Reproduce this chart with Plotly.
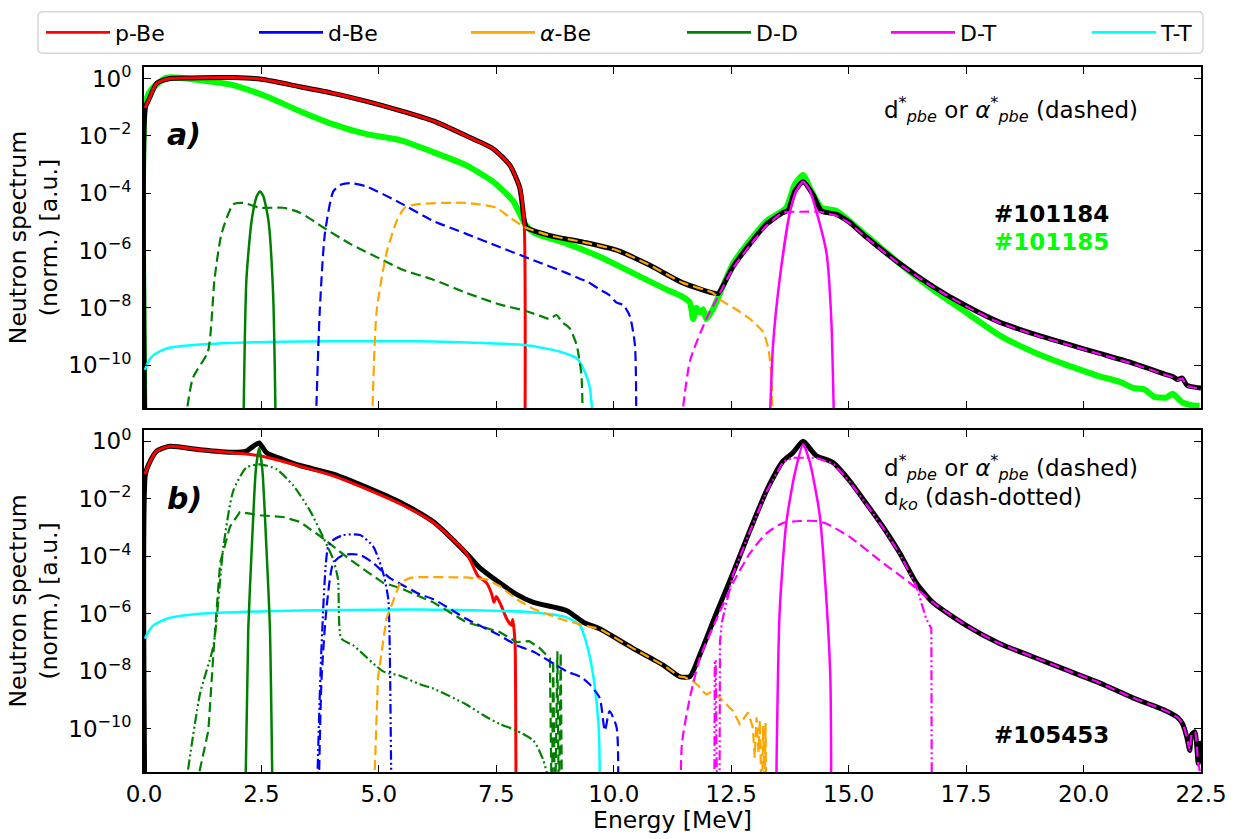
import plotly.graph_objects as go

# ---------------------------------------------------------------------------
# Neutron spectra (energy in MeV, intensity given as log10 of normalised value)
# Values of -13 lie below the lower axis limit (curve leaves the frame).
# ---------------------------------------------------------------------------

# ---- panel a) : #101184 (black) and #101185 (lime) ----
tot_a_E = [0.02, 0.03, 0.1, 0.27, 0.55, 1.0, 1.9, 2.5, 3.32, 4.0, 4.74, 5.45, 6.16, 6.86, 7.43, 7.79, 8.0, 8.09,
           8.14, 8.64, 9.35, 10.06, 10.76, 11.47, 12.11, 12.22, 12.54, 12.9, 13.25, 13.6, 13.71, 13.85, 14.03,
           14.24, 14.42, 14.74, 15.02, 15.38, 16.08, 16.79, 17.5, 18.21, 18.92, 19.63, 20.34, 21.05, 21.76, 21.9,
           22.0, 22.1, 22.2, 22.3, 22.5]
tot_a_L = [-13, -1.0, -0.75, -0.17, 0.0, 0.02, 0.03, -0.03, -0.29, -0.51, -0.8, -1.12, -1.48, -2.0, -2.45, -3.03,
           -3.82, -4.9, -5.19, -5.48, -5.71, -5.99, -6.51, -7.13, -7.48, -7.5, -6.56, -5.77, -5.08, -4.68, -4.6,
           -3.94, -3.6, -4.05, -4.62, -4.74, -5.02, -5.54, -6.45, -7.25, -7.93, -8.5, -8.9, -9.25, -9.59, -9.93,
           -10.33, -10.4, -10.5, -10.45, -10.7, -10.75, -10.8]

shot2_a_E = [0.02, 0.03, 0.15, 0.48, 1.19, 1.9, 2.61, 3.32, 4.03, 4.74, 5.45, 6.16, 6.86, 7.43, 7.86, 8.11, 8.29,
             9.0, 9.7, 10.41, 11.12, 11.45, 11.62, 11.69, 11.76, 11.83, 11.9, 11.97, 12.11, 12.54, 12.9, 13.25,
             13.67, 13.85, 14.03, 14.2, 14.42, 14.74, 15.38, 16.08, 16.79, 17.5, 18.21, 18.92, 19.63, 20.0, 20.34,
             20.6, 20.8, 21.05, 21.3, 21.5, 21.76, 21.9, 22.1, 22.3, 22.47]
shot2_a_L = [-13, -0.86, -0.4, 0.03, -0.06, -0.23, -0.63, -1.14, -1.6, -1.94, -2.15, -2.57, -3.03, -3.6, -4.28,
             -5.08, -5.37, -5.76, -6.22, -6.79, -7.36, -7.6, -7.82, -8.39, -8.0, -8.16, -8.05, -8.39, -8.05, -6.45,
             -5.65, -4.97, -4.51, -3.71, -3.37, -3.9, -4.51, -4.62, -5.48, -6.45, -7.36, -8.16, -8.96, -9.53,
             -9.99, -10.2, -10.39, -10.5, -10.6, -10.79, -10.85, -11.1, -11.13, -11.0, -11.3, -11.4, -11.42]

pbe_a_E = [0.02, 0.1, 0.27, 0.55, 1.0, 1.9, 2.5, 3.32, 4.0, 4.74, 5.45, 6.16, 6.86, 7.43, 7.79, 8.0, 8.09, 8.11]
pbe_a_L = [-1.03, -0.75, -0.17, 0.0, 0.02, 0.03, -0.03, -0.29, -0.51, -0.8, -1.12, -1.48, -2.0, -2.45, -3.03,
           -3.82, -4.97, -13]

dbe_a_E = [3.64, 3.74, 3.85, 4.03, 4.2, 4.39, 4.74, 5.45, 6.16, 6.86, 7.57, 8.29, 9.0, 9.3, 9.45, 9.7, 9.9,
           10.06, 10.2, 10.34, 10.45, 10.48]
dbe_a_L = [-13, -8.16, -5.42, -3.94, -3.7, -3.65, -3.77, -4.34, -4.97, -5.42, -5.88, -6.34, -6.79, -7.0, -7.1,
           -7.36, -7.55, -7.82, -7.9, -8.28, -9.3, -13]

abe_a_E = [4.84, 4.95, 5.16, 5.38, 5.55, 5.8, 6.86, 7.5, 7.79, 8.11, 8.64, 9.35, 10.06, 10.76, 11.47, 12.11,
           12.26, 12.54, 12.9, 13.18, 13.29, 13.36, 13.38]
abe_a_L = [-13, -8.16, -6.1, -4.97, -4.51, -4.39, -4.34, -4.51, -4.85, -5.19, -5.48, -5.71, -5.99, -6.51, -7.13,
           -7.48, -7.71, -7.99, -8.39, -8.85, -9.42, -10.45, -13]

dd_pbe_a_E = [0.8, 1.04, 1.36, 1.5, 1.65, 1.9, 2.11, 2.47, 2.96, 3.32, 3.81, 4.39, 5.09, 5.52, 6.16, 6.86, 7.57,
              8.11, 8.43, 8.64, 8.78, 8.9, 9.0, 9.07, 9.21, 9.31, 9.35]
dd_pbe_a_L = [-13, -10.45, -9.53, -7.02, -5.42, -4.39, -4.34, -4.51, -4.51, -4.68, -5.19, -5.77, -6.34, -6.68,
              -7.02, -7.48, -7.88, -8.1, -8.28, -8.39, -8.25, -8.5, -8.62, -8.73, -9.3, -10.33, -13]

dd_th_a_E = [2.11, 2.18, 2.29, 2.4, 2.47, 2.54, 2.65, 2.75, 2.81]
dd_th_a_L = [-13, -7.02, -4.97, -4.11, -3.94, -4.11, -4.97, -7.59, -13]

tt_a_E = [0.02, 0.1, 0.2, 0.48, 1.19, 2.61, 4.03, 5.87, 6.86, 8.11, 8.86, 9.21, 9.38, 9.49, 9.6]
tt_a_L = [-10.16, -9.85, -9.65, -9.42, -9.28, -9.19, -9.17, -9.17, -9.21, -9.3, -9.53, -9.76, -10.22, -10.79, -13]

dt_th_a_E = [13.3, 13.39, 13.53, 13.74, 13.88, 14.03, 14.17, 14.31, 14.53, 14.63, 14.7]
dt_th_a_L = [-13, -9.3, -7.02, -4.74, -3.94, -3.6, -3.9, -4.62, -6.11, -8.39, -13]

dt_pbe_a_E = [11.37, 11.62, 11.97, 12.26, 12.54, 12.9, 13.25, 13.6, 13.96, 14.38, 14.74, 15.02, 15.38, 16.08,
              16.79, 17.5, 18.21, 18.92, 19.63, 20.34, 21.05, 21.76, 21.9, 22.0, 22.1, 22.2, 22.3, 22.5]
dt_pbe_a_L = [-13, -9.87, -8.39, -7.48, -6.62, -5.82, -5.14, -4.68, -4.65, -4.65, -4.79, -5.05, -5.56, -6.47,
              -7.27, -7.95, -8.52, -8.92, -9.27, -9.61, -9.95, -10.35, -10.42, -10.52, -10.47, -10.72, -10.77, -10.82]

# ---- panel b) : #105453 ----
tot_b_E = [0.02, 0.03, 0.1, 0.27, 0.55, 1.19, 1.9, 2.18, 2.3, 2.45, 2.52, 2.61, 2.96, 3.32, 4.03, 4.74, 5.45,
           6.16, 6.86, 7.15, 7.57, 7.93, 8.29, 9.0, 9.35, 9.7, 10.41, 11.05, 11.4, 11.62, 11.83, 12.19, 12.54,
           12.9, 13.25, 13.6, 13.81, 14.03, 14.2, 14.31, 14.67, 15.02, 15.38, 15.73, 16.09, 16.44, 16.79, 17.5,
           18.21, 18.92, 19.63, 20.34, 21.05, 21.5, 21.76, 22.0, 22.11, 22.2, 22.26, 22.3, 22.37, 22.44, 22.48, 22.5]
tot_b_L = [-13, -1.14, -0.8, -0.34, -0.17, -0.29, -0.38, -0.34, -0.2, -0.06, -0.2, -0.4, -0.63, -0.84, -1.14,
           -1.6, -2.12, -2.8, -3.89, -4.4, -4.92, -5.32, -5.6, -5.89, -6.29, -6.52, -7.2, -7.78, -8.18, -8.18,
           -7.43, -5.95, -4.57, -3.09, -1.72, -0.69, -0.4, 0.0, -0.3, -0.5, -0.74, -1.37, -2.17, -2.97, -3.89,
           -4.92, -5.6, -6.4, -7.03, -7.49, -7.95, -8.4, -8.92, -9.2, -9.38, -9.6, -9.83, -10.3, -10.75, -10.2,
           -10.1, -11.2, -10.5, -11.0]

pbe_b_E = [0.02, 0.1, 0.27, 0.55, 1.19, 1.9, 2.49, 3.32, 4.03, 4.74, 5.45, 6.16, 6.86, 7.11, 7.2, 7.29, 7.4,
           7.45, 7.5, 7.6, 7.72, 7.82, 7.85, 7.88, 7.9, 7.92]
pbe_b_L = [-1.14, -0.8, -0.34, -0.17, -0.29, -0.4, -0.51, -0.86, -1.2, -1.66, -2.17, -2.82, -3.89, -4.69, -4.8,
           -4.92, -5.3, -5.6, -5.4, -5.7, -6.17, -6.4, -6.2, -6.6, -7.09, -13]

abe_b_E = [4.88, 4.98, 5.16, 5.45, 5.66, 5.87, 6.86, 7.29, 7.57, 7.93, 8.29, 8.85, 9.35, 9.7, 10.41, 11.05, 11.4,
           11.5, 11.69, 11.8, 11.9, 11.97, 12.1, 12.26, 12.54, 12.68, 12.86, 12.96, 13.0, 13.04, 13.08, 13.11,
           13.15, 13.18, 13.21, 13.23, 13.25]
abe_b_L = [-13, -8.23, -6.17, -4.92, -4.75, -4.72, -4.73, -4.8, -5.03, -5.49, -5.83, -6.17, -6.4, -6.52, -7.2,
           -7.78, -8.18, -8.2, -8.35, -8.5, -8.7, -8.8, -8.7, -8.92, -9.38, -9.83, -9.43, -9.95, -11.0, -9.6,
           -10.8, -9.7, -13, -9.9, -13, -9.8, -13]

dbe_pbe_b_E = [3.71, 3.78, 3.89, 4.03, 4.24, 4.6, 4.88, 5.23, 5.45, 5.87, 6.16, 6.86, 7.57, 7.93, 8.29, 9.0, 9.3,
               9.49, 9.7, 9.81, 9.91, 10.06, 10.09]
dbe_pbe_b_L = [-13, -8.23, -5.72, -4.23, -3.95, -3.95, -4.23, -4.75, -4.95, -5.32, -5.49, -6.17, -6.75, -7.09,
               -7.32, -8.0, -8.2, -8.46, -8.92, -10.06, -9.38, -9.95, -13]

dbe_ko_b_E = [3.67, 3.78, 3.92, 4.03, 4.24, 4.6, 4.88, 5.09, 5.2, 5.23, 5.27]
dbe_ko_b_L = [-13, -7.09, -3.66, -3.43, -3.26, -3.26, -3.66, -4.57, -5.49, -7.09, -13]

dd_pbe_b_E = [0.98, 1.37, 1.48, 1.62, 1.83, 2.04, 2.47, 2.96, 3.32, 3.81, 4.39, 5.09, 5.45, 6.16, 6.86, 7.57,
              7.93, 8.2, 8.43, 8.64, 8.68, 8.71, 8.75, 8.8, 8.83, 8.87, 8.9]
dd_pbe_b_L = [-13, -10.06, -7.32, -4.23, -2.97, -2.46, -2.57, -2.63, -2.8, -3.37, -4.12, -4.92, -5.1, -5.6,
              -6.29, -6.63, -6.98, -6.95, -7.2, -7.55, -13, -7.6, -13, -7.3, -13, -7.35, -13]

dd_ko_b_E = [0.8, 1.19, 1.48, 1.69, 1.9, 2.18, 2.47, 2.82, 3.18, 3.53, 3.81, 4.03, 4.13, 4.2, 4.45, 5.09, 5.45,
             5.87, 6.16, 6.86, 7.2, 7.57, 7.93, 8.29, 8.5, 8.78]
dd_ko_b_L = [-13, -8.8, -7.09, -3.66, -1.72, -0.91, -0.8, -0.97, -1.54, -2.4, -3.32, -4.12, -4.8, -6.86, -7.09,
             -8.0, -8.15, -8.45, -8.6, -9.15, -9.5, -9.83, -10.06, -10.41, -11.09, -13]

dd_th_b_E = [2.15, 2.22, 2.3, 2.38, 2.45, 2.52, 2.6, 2.68, 2.74]
dd_th_b_L = [-13, -6.5, -3.5, -1.0, -0.23, -1.0, -3.5, -6.5, -13]

tt_b_E = [0.02, 0.1, 0.2, 0.48, 1.19, 2.61, 4.03, 5.87, 8.29, 9.0, 9.28, 9.43, 9.57, 9.68, 9.71]
tt_b_L = [-6.86, -6.6, -6.4, -6.17, -6.0, -5.91, -5.87, -5.85, -5.95, -6.12, -6.4, -7.09, -8.23, -9.95, -13]

dt_th_b_E = [13.45, 13.53, 13.67, 13.85, 14.03, 14.17, 14.38, 14.52, 14.61, 14.63]
dt_th_b_L = [-13, -5.95, -2.86, -1.14, -0.11, -0.7, -2.52, -5.37, -8.23, -13]

dt_pbe_b_E = [11.42, 11.45, 11.62, 11.83, 12.19, 12.54, 12.9, 13.25, 13.6, 13.96, 14.31, 14.52, 15.02, 15.73,
              16.3, 16.79, 17.5, 18.21, 18.92, 19.63, 20.34, 21.05, 21.5, 21.76, 22.0, 22.11, 22.2, 22.26, 22.3,
              22.37, 22.44, 22.48]
dt_pbe_b_L = [-13, -10.52, -8.92, -7.55, -6.17, -4.92, -3.89, -3.2, -2.84, -2.77, -2.77, -2.86, -3.32, -4.23,
              -4.92, -5.6, -6.4, -7.03, -7.49, -7.95, -8.4, -8.92, -9.2, -9.38, -9.6, -9.83, -10.3, -10.75, -10.2,
              -10.1, -11.2, -11.5]

dt_ko_b_E = [12.14, 12.15, 12.17, 12.2, 12.25, 12.26, 12.3, 12.54, 12.9, 13.25, 13.6, 13.81, 14.03, 14.3, 14.67,
             15.02, 15.38, 15.73, 16.09, 16.44, 16.65, 16.76, 16.77]
dt_ko_b_L = [-13, -7.66, -7.6, -13, -13, -7.0, -6.3, -4.62, -3.12, -1.75, -0.72, -0.57, -0.57, -0.57, -0.77,
             -1.4, -2.2, -3.0, -3.92, -5.03, -6.17, -6.52, -13]

# tick labels
x_ticks = [0.0, 2.5, 5.0, 7.5, 10.0, 12.5, 15.0, 17.5, 20.0, 22.5]
x_tick_text = ["0.0", "2.5", "5.0", "7.5", "10.0", "12.5", "15.0", "17.5", "20.0", "22.5"]
y_exponents = [0, -2, -4, -6, -8, -10]

# legend entries and the pixel column where each entry's line starts
legend_names = ["p-Be", "d-Be", "<i>α</i>-Be", "D-D", "D-T", "T-T"]
legend_colors = ["#ff0000", "#0000ff", "#ffa500", "#008000", "#ff00ff", "#00ffff"]
legend_px = [46, 259, 471, 687, 891, 1092]

# ---------------------------------------------------------------------------
FONT = "DejaVu Sans"
RED, BLUE, ORANGE, GREEN, MAGENTA, CYAN, LIME = ("#ff0000", "#0000ff", "#ffa500", "#008000",
                                                 "#ff00ff", "#00ffff", "#00ff00")
DASH = "10px,5px"
DASHDOT = "10px,3px,2px,3px,2px,3px"

# figure geometry (pixels)
W, H = 1241, 839
ML, MR, MT, MB = 144, 40, 57, 67
PW, PH = W - ML - MR, H - MT - MB


def px_to_paper_x(px):
    return (px - ML) / PW


def px_to_paper_y(py):
    return 1 + (MT - py) / PH


def dec(vals):
    return [10.0 ** v for v in vals]


fig = go.Figure()


def add(E, L, color, width, dash="solid", row=1, smooth=True):
    ax = "" if row == 1 else "2"
    line = dict(color=color, width=width, dash=dash)
    if smooth:
        line.update(shape="spline", smoothing=0.6)
    fig.add_trace(go.Scatter(x=E, y=dec(L), mode="lines", showlegend=False, line=line,
                             xaxis="x" + ax, yaxis="y" + ax, hoverinfo="skip"))


# legend entries: one small legend per channel, laid out in a single row
legend_layout = {}
for i, (nm, col, px) in enumerate(zip(legend_names, legend_colors, legend_px)):
    key = "legend" if i == 0 else "legend%d" % (i + 1)
    fig.add_trace(go.Scatter(x=[None], y=[None], mode="lines", name=nm, showlegend=True, legend=key,
                             line=dict(color=col, width=2.8), xaxis="x", yaxis="y"))
    legend_layout[key] = dict(x=px_to_paper_x(px - 5), y=px_to_paper_y(22), xanchor="left", yanchor="middle",
                              orientation="h", bgcolor="rgba(0,0,0,0)", borderwidth=0, itemwidth=64,
                              font=dict(family=FONT, size=22, color="black"))

# panel a
add(shot2_a_E, shot2_a_L, LIME, 6)
add(tot_a_E, tot_a_L, "black", 5)
add(pbe_a_E, pbe_a_L, RED, 3)
add(tt_a_E, tt_a_L, CYAN, 2.5)
add(dd_th_a_E, dd_th_a_L, GREEN, 2.5)
add(dd_pbe_a_E, dd_pbe_a_L, GREEN, 2.2, DASH)
add(dbe_a_E, dbe_a_L, BLUE, 2.2, DASH)
add(abe_a_E, abe_a_L, ORANGE, 2.2, DASH)
add(dt_th_a_E, dt_th_a_L, MAGENTA, 2.5)
add(dt_pbe_a_E, dt_pbe_a_L, MAGENTA, 2.2, DASH)

# panel b
add(tot_b_E, tot_b_L, "black", 5, row=2)
add(pbe_b_E, pbe_b_L, RED, 3, row=2)
add(tt_b_E, tt_b_L, CYAN, 2.5, row=2)
add(dd_th_b_E, dd_th_b_L, GREEN, 2.5, row=2)
add(dd_pbe_b_E, dd_pbe_b_L, GREEN, 2.2, DASH, row=2, smooth=False)
add(dd_ko_b_E, dd_ko_b_L, GREEN, 2.2, DASHDOT, row=2)
add(dbe_pbe_b_E, dbe_pbe_b_L, BLUE, 2.2, DASH, row=2)
add(dbe_ko_b_E, dbe_ko_b_L, BLUE, 2.2, DASHDOT, row=2)
add(abe_b_E, abe_b_L, ORANGE, 2.2, DASH, row=2, smooth=False)
add(dt_th_b_E, dt_th_b_L, MAGENTA, 2.5, row=2)
add(dt_pbe_b_E, dt_pbe_b_L, MAGENTA, 2.2, DASH, row=2)
add(dt_ko_b_E, dt_ko_b_L, MAGENTA, 2.2, DASHDOT, row=2, smooth=False)

y_tickvals = [10.0 ** e for e in y_exponents]
y_ticktext = ["10<sup>%s</sup>" % str(e).replace("-", "−") for e in y_exponents]

TICK_FONT = dict(family=FONT, size=23, color="black")
TITLE_FONT = dict(family=FONT, size=23.5, color="black")
common_x = dict(range=[0, 22.5], tickvals=x_ticks, ticktext=x_tick_text, ticks="inside", ticklen=7,
                tickwidth=1.2, tickcolor="black", showline=True, linecolor="black", linewidth=1.8,
                mirror="ticks", showgrid=False, zeroline=False, tickfont=TICK_FONT)
common_y = dict(type="log", range=[-11.5, 0.4], tickvals=y_tickvals, ticktext=y_ticktext, ticks="inside",
                ticklen=7, tickwidth=1.2, tickcolor="black", showline=True, linecolor="black", linewidth=1.8,
                mirror="ticks", showgrid=False, zeroline=False, ticklabelstandoff=6, tickfont=TICK_FONT,
                title=dict(text="Neutron spectrum<br>(norm.) [a.u.]", standoff=4, font=TITLE_FONT))

fig.update_layout(
    width=W, height=H,
    margin=dict(l=ML, r=MR, t=MT, b=MB),
    paper_bgcolor="white", plot_bgcolor="white",
    font=dict(family=FONT, color="black"),
    xaxis=dict(**common_x, domain=[0, 1], anchor="y", showticklabels=False, matches="x2"),
    yaxis=dict(**common_y, domain=[px_to_paper_y(403), 1.0], anchor="x"),
    xaxis2=dict(**common_x, domain=[0, 1], anchor="y2",
                title=dict(text="Energy [MeV]", standoff=2, font=TITLE_FONT)),
    yaxis2=dict(**common_y, domain=[0.0, px_to_paper_y(425)], anchor="x2"),
    **legend_layout,
)

# rounded frame around the legend row
bx0, bx1 = px_to_paper_x(38), px_to_paper_x(1203)
by0, by1 = px_to_paper_y(43), px_to_paper_y(1)
rx, ry = 5 / PW, 5 / PH
frame = ("M {a},{b} L {c},{b} Q {x1},{b} {x1},{d} L {x1},{e} Q {x1},{y1} {c},{y1} "
         "L {a},{y1} Q {x0},{y1} {x0},{e} L {x0},{d} Q {x0},{b} {a},{b} Z").format(
    a=bx0 + rx, c=bx1 - rx, b=by0, d=by0 + ry, e=by1 - ry, x0=bx0, x1=bx1, y1=by1)
fig.add_shape(type="path", path=frame, xref="paper", yref="paper",
              line=dict(color="#d6d6d6", width=1.5), fillcolor="rgba(255,255,255,0.8)", layer="below")

ann_font = dict(family=FONT, size=23, color="black")
bold_font = dict(family=FONT, size=23, color="black")
pbe_text = "d<sup>*</sup><sub><i>pbe</i></sub> or <i>α</i><sup>*</sup><sub><i>pbe</i></sub> (dashed)"
annotations = [
    dict(text="<b><i>a)</i></b>", xref="x domain", yref="y domain", x=0.02, y=0.803, xanchor="left",
         yanchor="middle", showarrow=False, font=dict(family=FONT, size=30, color="black")),
    dict(text=pbe_text, xref="x domain", yref="y domain", x=0.698, y=0.876, xanchor="left",
         yanchor="middle", showarrow=False, font=ann_font),
    dict(text="<b>#101184</b>", xref="x domain", yref="y domain", x=0.802, y=0.569, xanchor="left",
         yanchor="middle", showarrow=False, font=bold_font),
    dict(text="<b>#101185</b>", xref="x domain", yref="y domain", x=0.802, y=0.488, xanchor="left",
         yanchor="middle", showarrow=False, font=dict(family=FONT, size=23, color=LIME)),
    dict(text="<b><i>b)</i></b>", xref="x2 domain", yref="y2 domain", x=0.02, y=0.798, xanchor="left",
         yanchor="middle", showarrow=False, font=dict(family=FONT, size=30, color="black")),
    dict(text=pbe_text, xref="x2 domain", yref="y2 domain", x=0.698, y=0.890, xanchor="left",
         yanchor="middle", showarrow=False, font=ann_font),
    dict(text="d<sub><i>ko</i></sub> (dash-dotted)", xref="x2 domain", yref="y2 domain", x=0.698, y=0.798,
         xanchor="left", yanchor="middle", showarrow=False, font=ann_font),
    dict(text="<b>#105453</b>", xref="x2 domain", yref="y2 domain", x=0.802, y=0.107, xanchor="left",
         yanchor="middle", showarrow=False, font=bold_font),
]
fig.update_layout(annotations=annotations)

fig.write_html("out.html")
